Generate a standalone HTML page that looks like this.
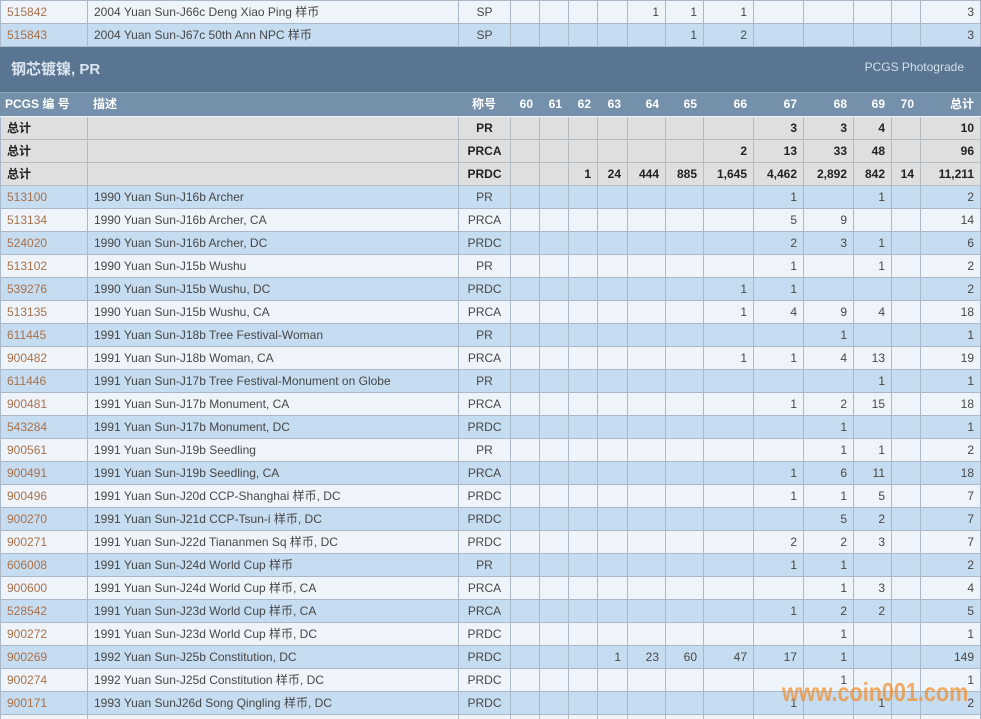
<!DOCTYPE html>
<html style="width:981px;height:719px;overflow:hidden"><head><meta charset="utf-8">
<style>
*{margin:0;padding:0}
html,body{width:981px;height:719px;overflow:hidden}
body{background:#eef4fa;position:relative;font-family:"Liberation Sans","Noto Sans CJK SC",sans-serif;font-size:12px;color:#474747}
.r{position:absolute;left:0;width:981px;display:flex;height:23px;box-sizing:border-box;border-bottom:1px solid #a9b9ca;border-left:1px solid #a9b9ca}
.r>div{box-sizing:border-box;border-right:1px solid #a9b9ca;height:22px;line-height:22px;padding:0 6px;white-space:nowrap;overflow:hidden;flex:none;text-align:right}
.r>div:nth-child(1){width:87px;text-align:left;color:#a9714a}
.r>div:nth-child(2){width:371px;text-align:left}
.r>div:nth-child(3){width:52px;text-align:center;padding:0}
.r>div:nth-child(4),.r>div:nth-child(5),.r>div:nth-child(6),.r>div:nth-child(14){width:29px}
.r>div:nth-child(7){width:30px}
.r>div:nth-child(8),.r>div:nth-child(9),.r>div:nth-child(13){width:38px}
.r>div:nth-child(10),.r>div:nth-child(11),.r>div:nth-child(12){width:50px}
.r>div:nth-child(15){width:60px}
.b{background:#c6dcf0}
.l{background:#eef4fa}
.t{background:#dfdfdf;border-bottom-color:#b4bcc5;font-weight:bold;color:#222}
.t>div{border-right-color:#b4bcc5}
.t>div:nth-child(1){color:#222}
.h{background:#7590aa;color:#fff;font-weight:bold;border:none}
.h>div{border-right:none}
.h>div:nth-child(1){color:#fff}
.band{position:absolute;left:0;top:47px;width:981px;height:45px;background:#5a7591;border-bottom:1px solid #8fa5ba}
.band .ti{position:absolute;left:11px;top:13px;font-size:15px;font-weight:bold;color:#dbe5ef;line-height:20px}
.band .pg{position:absolute;right:17px;top:11px;font-size:12px;color:#d3dfea;line-height:18px}
.wm{position:absolute;left:782px;top:679px;font-size:26px;line-height:26px;font-weight:bold;color:rgba(242,142,42,0.72);transform:scaleX(0.83);transform-origin:0 0;white-space:nowrap}
.topline{position:absolute;left:0;top:0;width:981px;height:1px;background:#a9b9ca}
</style></head><body>
<div class="topline"></div>
<div class="r l" style="top:1px"><div>515842</div><div>2004 Yuan Sun-J66c Deng Xiao Ping 样币</div><div>SP</div><div></div><div></div><div></div><div></div><div>1</div><div>1</div><div>1</div><div></div><div></div><div></div><div></div><div>3</div></div>
<div class="r b" style="top:24px"><div>515843</div><div>2004 Yuan Sun-J67c 50th Ann NPC 样币</div><div>SP</div><div></div><div></div><div></div><div></div><div></div><div>1</div><div>2</div><div></div><div></div><div></div><div></div><div>3</div></div>
<div class="band"><div class="ti">钢芯镀镍, PR</div><div class="pg">PCGS Photograde</div></div>
<div class="r h" style="top:93px"><div style="padding-left:5px">PCGS 编 号</div><div>描述</div><div>称号</div><div>60</div><div>61</div><div>62</div><div>63</div><div>64</div><div>65</div><div>66</div><div>67</div><div>68</div><div>69</div><div>70</div><div>总计</div></div>
<div class="r t" style="top:117px"><div>总计</div><div></div><div>PR</div><div></div><div></div><div></div><div></div><div></div><div></div><div></div><div>3</div><div>3</div><div>4</div><div></div><div>10</div></div>
<div class="r t" style="top:140px"><div>总计</div><div></div><div>PRCA</div><div></div><div></div><div></div><div></div><div></div><div></div><div>2</div><div>13</div><div>33</div><div>48</div><div></div><div>96</div></div>
<div class="r t" style="top:163px"><div>总计</div><div></div><div>PRDC</div><div></div><div></div><div>1</div><div>24</div><div>444</div><div>885</div><div>1,645</div><div>4,462</div><div>2,892</div><div>842</div><div>14</div><div>11,211</div></div>
<div class="r b" style="top:186px"><div>513100</div><div>1990 Yuan Sun-J16b Archer</div><div>PR</div><div></div><div></div><div></div><div></div><div></div><div></div><div></div><div>1</div><div></div><div>1</div><div></div><div>2</div></div>
<div class="r l" style="top:209px"><div>513134</div><div>1990 Yuan Sun-J16b Archer, CA</div><div>PRCA</div><div></div><div></div><div></div><div></div><div></div><div></div><div></div><div>5</div><div>9</div><div></div><div></div><div>14</div></div>
<div class="r b" style="top:232px"><div>524020</div><div>1990 Yuan Sun-J16b Archer, DC</div><div>PRDC</div><div></div><div></div><div></div><div></div><div></div><div></div><div></div><div>2</div><div>3</div><div>1</div><div></div><div>6</div></div>
<div class="r l" style="top:255px"><div>513102</div><div>1990 Yuan Sun-J15b Wushu</div><div>PR</div><div></div><div></div><div></div><div></div><div></div><div></div><div></div><div>1</div><div></div><div>1</div><div></div><div>2</div></div>
<div class="r b" style="top:278px"><div>539276</div><div>1990 Yuan Sun-J15b Wushu, DC</div><div>PRDC</div><div></div><div></div><div></div><div></div><div></div><div></div><div>1</div><div>1</div><div></div><div></div><div></div><div>2</div></div>
<div class="r l" style="top:301px"><div>513135</div><div>1990 Yuan Sun-J15b Wushu, CA</div><div>PRCA</div><div></div><div></div><div></div><div></div><div></div><div></div><div>1</div><div>4</div><div>9</div><div>4</div><div></div><div>18</div></div>
<div class="r b" style="top:324px"><div>611445</div><div>1991 Yuan Sun-J18b Tree Festival-Woman</div><div>PR</div><div></div><div></div><div></div><div></div><div></div><div></div><div></div><div></div><div>1</div><div></div><div></div><div>1</div></div>
<div class="r l" style="top:347px"><div>900482</div><div>1991 Yuan Sun-J18b Woman, CA</div><div>PRCA</div><div></div><div></div><div></div><div></div><div></div><div></div><div>1</div><div>1</div><div>4</div><div>13</div><div></div><div>19</div></div>
<div class="r b" style="top:370px"><div>611446</div><div>1991 Yuan Sun-J17b Tree Festival-Monument on Globe</div><div>PR</div><div></div><div></div><div></div><div></div><div></div><div></div><div></div><div></div><div></div><div>1</div><div></div><div>1</div></div>
<div class="r l" style="top:393px"><div>900481</div><div>1991 Yuan Sun-J17b Monument, CA</div><div>PRCA</div><div></div><div></div><div></div><div></div><div></div><div></div><div></div><div>1</div><div>2</div><div>15</div><div></div><div>18</div></div>
<div class="r b" style="top:416px"><div>543284</div><div>1991 Yuan Sun-J17b Monument, DC</div><div>PRDC</div><div></div><div></div><div></div><div></div><div></div><div></div><div></div><div></div><div>1</div><div></div><div></div><div>1</div></div>
<div class="r l" style="top:439px"><div>900561</div><div>1991 Yuan Sun-J19b Seedling</div><div>PR</div><div></div><div></div><div></div><div></div><div></div><div></div><div></div><div></div><div>1</div><div>1</div><div></div><div>2</div></div>
<div class="r b" style="top:462px"><div>900491</div><div>1991 Yuan Sun-J19b Seedling, CA</div><div>PRCA</div><div></div><div></div><div></div><div></div><div></div><div></div><div></div><div>1</div><div>6</div><div>11</div><div></div><div>18</div></div>
<div class="r l" style="top:485px"><div>900496</div><div>1991 Yuan Sun-J20d CCP-Shanghai 样币, DC</div><div>PRDC</div><div></div><div></div><div></div><div></div><div></div><div></div><div></div><div>1</div><div>1</div><div>5</div><div></div><div>7</div></div>
<div class="r b" style="top:508px"><div>900270</div><div>1991 Yuan Sun-J21d CCP-Tsun-i 样币, DC</div><div>PRDC</div><div></div><div></div><div></div><div></div><div></div><div></div><div></div><div></div><div>5</div><div>2</div><div></div><div>7</div></div>
<div class="r l" style="top:531px"><div>900271</div><div>1991 Yuan Sun-J22d Tiananmen Sq 样币, DC</div><div>PRDC</div><div></div><div></div><div></div><div></div><div></div><div></div><div></div><div>2</div><div>2</div><div>3</div><div></div><div>7</div></div>
<div class="r b" style="top:554px"><div>606008</div><div>1991 Yuan Sun-J24d World Cup 样币</div><div>PR</div><div></div><div></div><div></div><div></div><div></div><div></div><div></div><div>1</div><div>1</div><div></div><div></div><div>2</div></div>
<div class="r l" style="top:577px"><div>900600</div><div>1991 Yuan Sun-J24d World Cup 样币, CA</div><div>PRCA</div><div></div><div></div><div></div><div></div><div></div><div></div><div></div><div></div><div>1</div><div>3</div><div></div><div>4</div></div>
<div class="r b" style="top:600px"><div>528542</div><div>1991 Yuan Sun-J23d World Cup 样币, CA</div><div>PRCA</div><div></div><div></div><div></div><div></div><div></div><div></div><div></div><div>1</div><div>2</div><div>2</div><div></div><div>5</div></div>
<div class="r l" style="top:623px"><div>900272</div><div>1991 Yuan Sun-J23d World Cup 样币, DC</div><div>PRDC</div><div></div><div></div><div></div><div></div><div></div><div></div><div></div><div></div><div>1</div><div></div><div></div><div>1</div></div>
<div class="r b" style="top:646px"><div>900269</div><div>1992 Yuan Sun-J25b Constitution, DC</div><div>PRDC</div><div></div><div></div><div></div><div>1</div><div>23</div><div>60</div><div>47</div><div>17</div><div>1</div><div></div><div></div><div>149</div></div>
<div class="r l" style="top:669px"><div>900274</div><div>1992 Yuan Sun-J25d Constitution 样币, DC</div><div>PRDC</div><div></div><div></div><div></div><div></div><div></div><div></div><div></div><div></div><div>1</div><div></div><div></div><div>1</div></div>
<div class="r b" style="top:692px"><div>900171</div><div>1993 Yuan SunJ26d Song Qingling 样币, DC</div><div>PRDC</div><div></div><div></div><div></div><div></div><div></div><div></div><div></div><div>1</div><div></div><div>1</div><div></div><div>2</div></div>
<div class="r l" style="top:715px;height:4px;border-bottom:none"><div style="height:4px"></div><div style="height:4px"></div><div style="height:4px"></div><div style="height:4px"></div><div style="height:4px"></div><div style="height:4px"></div><div style="height:4px"></div><div style="height:4px"></div><div style="height:4px"></div><div style="height:4px"></div><div style="height:4px"></div><div style="height:4px"></div><div style="height:4px"></div><div style="height:4px"></div><div style="height:4px"></div></div>
<div class="wm">www.coin001.com</div>
</body></html>
